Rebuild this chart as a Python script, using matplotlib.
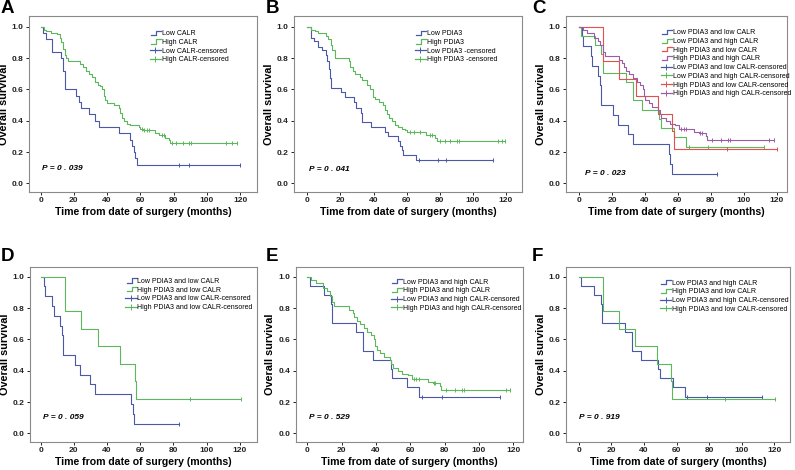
import numpy as np
import matplotlib
matplotlib.use("Agg")
import matplotlib.pyplot as plt
from matplotlib.lines import Line2D
from matplotlib.legend_handler import HandlerBase

plt.rcParams['font.family'] = ['Liberation Sans', 'DejaVu Sans']

BLUE = '#4a58a8'
GREEN = '#5cb85c'
RED = '#e4504a'
PURPLE = '#9c5ca8'

# --- Kaplan-Meier curves: (event times, survival after event), censor times ---
low_calr_t = [1.5, 3, 7, 12.5, 13.5, 14.5, 21, 23, 24.5, 29, 33, 35, 47, 54, 55, 56, 57, 58]
low_calr_s = [0.96, 0.92, 0.84, 0.80, 0.72, 0.60, 0.56, 0.52, 0.48, 0.44, 0.40, 0.36, 0.32, 0.28, 0.24, 0.20, 0.16, 0.12]
low_calr_c = [83, 89.5, 120]

high_calr_t = [2, 3.5, 6, 10, 11.5, 12.5, 13.5, 14.5, 15.5, 16.5, 24, 25.5, 27.5, 29, 31, 33, 34.5, 35.5,
               37, 38, 39, 40, 44, 47, 48, 49, 50, 52, 54, 59, 60, 61.5, 69, 71, 75, 77, 78]
high_calr_s = [0.98, 0.97, 0.96, 0.95, 0.93, 0.90, 0.86, 0.82, 0.80, 0.78, 0.76, 0.74, 0.72, 0.70, 0.68, 0.65, 0.63, 0.62,
               0.60, 0.56, 0.53, 0.51, 0.50, 0.48, 0.45, 0.42, 0.40, 0.38, 0.37, 0.36, 0.35, 0.34, 0.32, 0.31, 0.29, 0.28, 0.26]
high_calr_c = [61, 62.5, 64, 65.5, 73, 74, 79, 81.5, 85.5, 89.5, 90.5, 111.5, 115, 118]

low_pdia3_t = [2, 4, 6.5, 9, 11, 12, 13, 13.5, 14.5, 20.5, 22.5, 28, 29.5, 32.5, 33, 38.5, 47, 49, 55, 56, 57, 58, 65.5]
low_pdia3_s = [0.93, 0.91, 0.87, 0.85, 0.82, 0.78, 0.73, 0.67, 0.61, 0.58, 0.55, 0.52, 0.48, 0.45, 0.39, 0.36, 0.33, 0.30,
               0.27, 0.24, 0.21, 0.18, 0.15]
low_pdia3_c = [67.5, 79, 84, 112.5]

high_pdia3_t = [2, 4.5, 6.5, 11.5, 12.5, 14, 15, 16.5, 17, 25, 26, 27.5, 29, 32, 33, 36, 38, 39.5, 41, 43.5, 46,
                47, 48, 49.5, 51, 53, 55, 57, 59, 60.5, 72, 77, 78.5]
high_pdia3_s = [0.98, 0.97, 0.96, 0.94, 0.92, 0.88, 0.85, 0.82, 0.80, 0.78, 0.74, 0.72, 0.70, 0.68, 0.66, 0.63, 0.60,
                0.55, 0.54, 0.52, 0.50, 0.47, 0.44, 0.42, 0.40, 0.37, 0.36, 0.35, 0.34, 0.33, 0.31, 0.29, 0.27]
high_pdia3_c = [62, 64.5, 68, 74, 75.5, 80, 83, 86, 90.5, 91.5, 115, 117.5, 119.5]

# four combined groups
ll_t = [2, 2.5, 7, 8, 11.5, 13, 13.5, 20.5, 23.5, 29.5, 32.5, 54.5, 55.5, 56.5]
ll_s = [0.9375, 0.875, 0.8125, 0.75, 0.6875, 0.625, 0.5, 0.4375, 0.375, 0.3125, 0.25, 0.1875, 0.125, 0.0625]
ll_c = [83.5]

lh_t = [1.4, 9.5, 13.6, 14.5, 28.5, 32.6, 38.4, 48.5, 49.5, 57.8, 65]
lh_s = [0.941, 0.882, 0.824, 0.706, 0.647, 0.529, 0.471, 0.412, 0.353, 0.294, 0.235]
lh_c = [66.5, 78.5, 112.5]

hl_t = [14.7, 24.4, 34.5, 47.7, 56.6, 57.4]
hl_s = [0.778, 0.667, 0.556, 0.444, 0.333, 0.222]
hl_c = [90, 120.5]

hh_t = [2.3, 5, 9, 11.5, 13, 14.3, 15.5, 24.5, 26.4, 27.4, 28.7, 30.5, 33, 35, 37, 38.6, 39.5, 40.3, 42.5, 44.5,
        48, 49, 50, 52.8, 55, 58.5, 61, 70, 73, 77, 78]
hh_s = [0.98, 0.96, 0.93, 0.91, 0.88, 0.84, 0.81, 0.79, 0.77, 0.74, 0.72, 0.70, 0.67, 0.65, 0.63, 0.60, 0.56, 0.53,
        0.51, 0.49, 0.47, 0.44, 0.42, 0.40, 0.38, 0.37, 0.35, 0.33, 0.32, 0.30, 0.28]
hh_c = [62, 63.5, 65, 73.5, 74.5, 80.5, 86, 90.3, 91.5, 115.5, 118.2]

p_values = ['0 . 039', '0 . 041', '0 . 023', '0 . 059', '0 . 529', '0 . 919']
panel_letters = ['A', 'B', 'C', 'D', 'E', 'F']


class StepHandler(HandlerBase):
    # SPSS-style little step symbol in the legend
    def create_artists(self, legend, orig_handle, xdescent, ydescent, width, height, fontsize, trans):
        x0, y0 = -xdescent, -ydescent
        xs = [x0 + 0.1 * width, x0 + 0.55 * width, x0 + 0.55 * width, x0 + width]
        ys = [y0 + 0.05 * height, y0 + 0.05 * height, y0 + 0.9 * height, y0 + 0.9 * height]
        ln = Line2D(xs, ys, color=orig_handle.get_color(), lw=0.9, transform=trans)
        return [ln]


def km(ax, t, s, c, color):
    t = np.asarray(t, float)
    s = np.asarray(s, float)
    end = max(c)
    xs = np.concatenate([[0], t, [end]])
    ys = np.concatenate([[1.0], s, [s[-1]]])
    ax.step(xs, ys, where='post', color=color, lw=0.8)
    idx = np.searchsorted(t, c, side='right')
    cy = np.where(idx > 0, s[np.maximum(idx - 1, 0)], 1.0)
    ax.plot(c, cy, ls='none', marker='|', ms=3.2, mew=0.7, color=color)


def style(ax, xlim, ylim):
    ax.set_xlim(*xlim)
    ax.set_ylim(*ylim)
    ax.set_xticks(np.arange(0, 121, 20))
    ax.set_yticks(np.arange(0, 1.01, 0.2))
    ax.set_yticklabels([f'{v:.1f}' for v in np.arange(0, 1.01, 0.2)])
    for sp in ax.spines.values():
        sp.set_color('#8a8a8a')
        sp.set_linewidth(0.8)
    ax.tick_params(length=2.5, width=0.7, pad=1.5, labelsize=6, colors='#222222')
    for lbl in ax.get_xticklabels() + ax.get_yticklabels():
        lbl.set_fontweight('bold')
    ax.set_xlabel('Time from date of surgery (months)', fontsize=7.6, fontweight='bold', labelpad=2)
    ax.set_ylabel('Overall survival', fontsize=7.8, fontweight='bold', labelpad=2)


def legend(ax, entries, anchor):
    handles, labels, hmap = [], [], {}
    for lab, color, cens in entries:
        if cens:
            h = Line2D([], [], color=color, lw=0.9, marker='|', ms=4, mew=0.7)
        else:
            h = Line2D([], [], color=color, lw=0.9)
            hmap[h] = StepHandler()
        handles.append(h)
        labels.append(lab)
    ax.legend(handles, labels, handler_map=hmap, loc='upper left', bbox_to_anchor=anchor,
              frameon=False, fontsize=5, handlelength=1.6, handletextpad=0.1,
              labelspacing=0.25, borderpad=0, borderaxespad=0, numpoints=1)


W, H = 795, 470
fig = plt.figure(figsize=(W / 100, H / 100), dpi=100)


def add_axes(l, r, t, b):
    return fig.add_axes([l / W, 1 - b / H, (r - l) / W, (b - t) / H])


axA = add_axes(29.3, 256.7, 16, 191.7)
axB = add_axes(294.3, 521.7, 16, 191.7)
axC = add_axes(566, 786.7, 16, 191.7)
axD = add_axes(30, 257.3, 267.3, 441.7)
axE = add_axes(295.7, 523.3, 267.3, 441.7)
axF = add_axes(566, 790, 267.3, 441.7)
axes = [axA, axB, axC, axD, axE, axF]

# panel A
km(axA, low_calr_t, low_calr_s, low_calr_c, BLUE)
km(axA, high_calr_t, high_calr_s, high_calr_c, GREEN)
style(axA, (-6.8, 130), (-0.053, 1.068))
legend(axA, [('Low CALR', BLUE, False), ('High CALR', GREEN, False),
             ('Low CALR-censored', BLUE, True), ('High CALR-censored', GREEN, True)], (0.53, 0.92))

# panel B
km(axB, low_pdia3_t, low_pdia3_s, low_pdia3_c, BLUE)
km(axB, high_pdia3_t, high_pdia3_s, high_pdia3_c, GREEN)
style(axB, (-7.9, 129.6), (-0.053, 1.068))
legend(axB, [('Low PDIA3', BLUE, False), ('High PDIA3', GREEN, False),
             ('Low PDIA3 -censored', BLUE, True), ('High PDIA3 -censored', GREEN, True)], (0.53, 0.92))

# panel C
km(axC, ll_t, ll_s, ll_c, BLUE)
km(axC, lh_t, lh_s, lh_c, GREEN)
km(axC, hl_t, hl_s, hl_c, RED)
km(axC, hh_t, hh_s, hh_c, PURPLE)
style(axC, (-7.9, 126.1), (-0.053, 1.068))
legend(axC, [('Low PDIA3 and low CALR', BLUE, False), ('Low PDIA3 and high CALR', GREEN, False),
             ('High PDIA3 and low CALR', RED, False), ('High PDIA3 and high CALR', PURPLE, False),
             ('Low PDIA3 and low CALR-censored', BLUE, True), ('Low PDIA3 and high CALR-censored', GREEN, True),
             ('High PDIA3 and low CALR-censored', RED, True), ('High PDIA3 and high CALR-censored', PURPLE, True)],
       (0.43, 0.925))

# panel D
km(axD, ll_t, ll_s, ll_c, BLUE)
km(axD, hl_t, hl_s, hl_c, GREEN)
style(axD, (-6.4, 130.5), (-0.053, 1.06))
legend(axD, [('Low PDIA3 and low CALR', BLUE, False), ('High PDIA3 and low CALR', GREEN, False),
             ('Low PDIA3 and low CALR-censored', BLUE, True), ('High PDIA3 and low CALR-censored', GREEN, True)],
       (0.42, 0.94))

# panel E
km(axE, lh_t, lh_s, lh_c, BLUE)
km(axE, hh_t, hh_s, hh_c, GREEN)
style(axE, (-6.8, 125.8), (-0.053, 1.06))
legend(axE, [('Low PDIA3 and high CALR', BLUE, False), ('High PDIA3 and high CALR', GREEN, False),
             ('Low PDIA3 and high CALR-censored', BLUE, True), ('High PDIA3 and high CALR-censored', GREEN, True)],
       (0.42, 0.935))

# panel F
km(axF, lh_t, lh_s, lh_c, BLUE)
km(axF, hl_t, hl_s, hl_c, GREEN)
style(axF, (-7.9, 129.6), (-0.053, 1.06))
legend(axF, [('Low PDIA3 and high CALR', BLUE, False), ('High PDIA3 and low CALR', GREEN, False),
             ('Low PDIA3 and high CALR-censored', BLUE, True), ('High PDIA3 and low CALR-censored', GREEN, True)],
       (0.42, 0.93))

p_pos = [(1, 0.095), (1.2, 0.09), (3.5, 0.065), (1.5, 0.10), (1, 0.10), (0.3, 0.10)]
for ax, p, (px, py) in zip(axes, p_values, p_pos):
    ax.text(px, py, f'P = {p}', fontsize=6, fontweight='bold', fontstyle='italic', va='center', ha='left')

letter_pos = [(1, 0), (266, 0), (532, 0), (1, 248), (266, 248), (532, 248)]
for let, (lx, ly) in zip(panel_letters, letter_pos):
    fig.text(lx / W, 1 - ly / H, let, fontsize=13.5, fontweight='bold', va='top', ha='left')

fig.savefig('out.png', dpi=100, facecolor='white')
